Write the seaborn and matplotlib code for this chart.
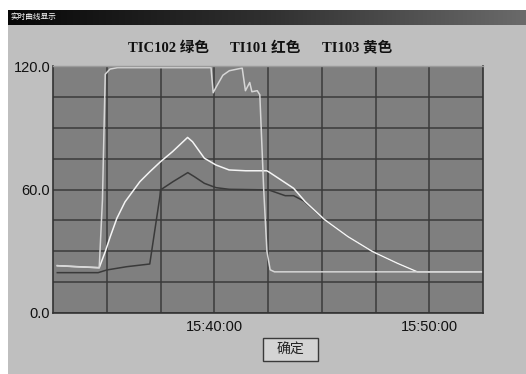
import numpy as np
import pandas as pd
import matplotlib
matplotlib.use("Agg")
import matplotlib.pyplot as plt
from matplotlib.patches import Rectangle
import seaborn as sns

# ---- data (minutes after 15:30:00) ----
tic102_t = [2.7, 3.5, 4.65, 4.8, 4.93, 5.15, 5.5, 6.0, 9.85, 9.95, 10.1, 10.4, 10.7, 11.3, 11.45,
            11.65, 11.75, 12.0, 12.12, 12.3, 12.45, 12.6, 12.8, 22.5]
tic102_v = [23.0, 22.5, 22.0, 55.0, 116.0, 118.5, 119.2, 119.2, 119.2, 107.0, 110.0, 115.5, 117.7,
            119.0, 108.0, 112.0, 107.5, 108.0, 106.0, 60.0, 30.0, 21.0, 20.0, 20.0]

ti101_t = [2.7, 4.6, 5.0, 5.93, 7.0, 7.47, 7.5, 8.08, 8.77, 9.08, 9.54, 10.08, 10.69, 12.53,
           13.3, 13.69, 14.15, 15.15, 16.22, 17.37, 18.53, 19.45, 22.5]
ti101_v = [19.6, 19.6, 20.9, 22.5, 23.8, 56.5, 59.8, 63.8, 68.2, 66.2, 63.0, 60.9, 60.1, 59.8,
           57.0, 57.0, 54.5, 45.2, 37.1, 29.8, 24.1, 20.0, 20.0]

ti103_t = [2.7, 4.65, 4.93, 5.16, 5.47, 5.85, 6.54, 7.0, 7.5, 8.06, 8.76, 8.99, 9.54, 10.08,
           10.69, 11.46, 12.44, 12.53, 13.69, 14.23, 15.15, 16.22, 17.37, 18.53, 19.45, 22.5]
ti103_v = [23.0, 22.0, 29.8, 37.0, 46.0, 54.0, 63.8, 68.6, 73.5, 78.4, 85.3, 83.2, 75.2, 71.9,
           69.5, 69.1, 69.1, 68.6, 60.6, 54.1, 45.2, 37.1, 29.8, 24.1, 20.0, 20.0]

series_names = ["TI101", "TI103", "TIC102"]
series_colors = {"TI101": "#3a3a3a", "TI103": "#f4f4f4", "TIC102": "#d6d6d6"}
legend_labels = ["TIC102 绿色", "TI101 红色", "TI103 黄色"]
yticks_labeled = {0: "0.0", 60: "60.0", 120: "120.0"}
xticks_labeled = {10.0: "15:40:00", 20.0: "15:50:00"}

df = pd.concat([
    pd.DataFrame({"t": ti101_t, "v": ti101_v, "s": "TI101"}),
    pd.DataFrame({"t": ti103_t, "v": ti103_v, "s": "TI103"}),
    pd.DataFrame({"t": tic102_t, "v": tic102_v, "s": "TIC102"}),
], ignore_index=True)

W, H = 526, 374
fig = plt.figure(figsize=(W / 100, H / 100), dpi=100, facecolor="white")

def fx(x):
    return x / W

def fy(y):
    return 1 - y / H

# window background
fig.patches.append(Rectangle((fx(8), 0), 1 - fx(8), fy(25), transform=fig.transFigure,
                             facecolor="#bfbfbf", edgecolor="none", zorder=-5))
# title bar gradient
bar = fig.add_axes([fx(8), fy(25), 1 - fx(8), fy(10) - fy(25)])
grad = np.linspace(0, 1, 256).reshape(1, -1)
bar.imshow(grad, aspect="auto", cmap=matplotlib.colors.LinearSegmentedColormap.from_list(
    "g", ["#080808", "#303030", "#6a6a6a"]), extent=[0, 1, 0, 1])
bar.set_axis_off()
bar.text(0.004, 0.5, "实时曲线显示", color="white", fontsize=5.5, va="center", ha="left",
         family=["Noto Sans CJK SC", "DejaVu Sans"], transform=bar.transAxes)

ax = fig.add_axes([fx(53), fy(313), fx(483) - fx(53), fy(66) - fy(313)])
ax.set_zorder(2)
ax.set_facecolor("#7f7f7f")

sns.lineplot(data=df, x="t", y="v", hue="s", hue_order=series_names, palette=series_colors,
             estimator=None, sort=False, legend=False, linewidth=1.1, ax=ax)

ax.set_xlim(2.5, 22.5)
ax.set_ylim(0, 120)
xt = np.arange(5, 22.5, 2.5)
yt = np.arange(0, 121, 15)
ax.set_xticks(xt)
ax.set_xticklabels([xticks_labeled.get(float(v), "") for v in xt])
ax.set_yticks(yt)
ax.set_yticklabels([yticks_labeled.get(int(v), "") for v in yt])
ax.tick_params(length=0, labelsize=10.5, colors="#111111")
for lab in ax.get_xticklabels() + ax.get_yticklabels():
    lab.set_family("Liberation Sans")
ax.tick_params(axis="y", pad=2)
ax.tick_params(axis="x", pad=5)
ax.grid(True, color="#3a3a3a", linewidth=1.1)
ax.set_axisbelow(True)
ax.set_xlabel("")
ax.set_ylabel("")
for side in ["left", "bottom", "right"]:
    ax.spines[side].set_color("#333333")
    ax.spines[side].set_linewidth(1.2)
ax.spines["top"].set_color("#9a9a9a")
ax.spines["top"].set_linewidth(1.0)

# header labels
for x0, lab in zip([128, 230, 322], legend_labels):
    fig.text(fx(x0), fy(48), lab, fontsize=10.5, fontweight="bold", va="center", ha="left",
             family=["Liberation Serif", "Noto Sans CJK SC"], color="#111111")

# button
fig.patches.append(Rectangle((fx(263), fy(361)), fx(318) - fx(263), fy(338) - fy(361),
                             transform=fig.transFigure, facecolor="#d4d4d4",
                             edgecolor="#3a3a3a", linewidth=1.0, zorder=1))
fig.text(fx(290.5), fy(349.5), "确定", fontsize=10, ha="center", va="center",
         family=["Noto Sans CJK SC", "DejaVu Sans"], color="#222222")

fig.savefig("out.png", dpi=100, facecolor=fig.get_facecolor())
